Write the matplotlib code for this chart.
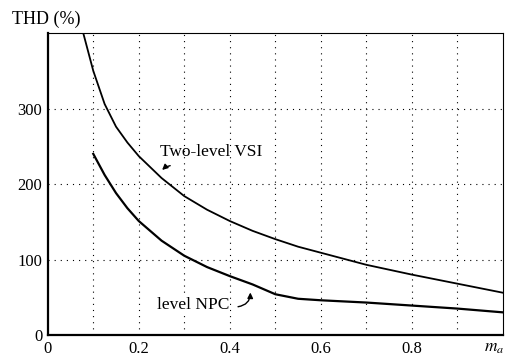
import matplotlib
matplotlib.use("Agg")
import matplotlib.pyplot as plt

plt.rcParams["font.family"] = ["Liberation Serif", "DejaVu Serif"]
plt.rcParams["mathtext.fontset"] = "stix"

# curves
vsi_x = [0.078, 0.1, 0.125, 0.15, 0.175, 0.2, 0.25, 0.3, 0.35, 0.4, 0.45, 0.5,
         0.55, 0.6, 0.7, 0.8, 0.9, 1.0]
vsi_y = [400, 350, 306, 276, 255, 237, 208, 184, 166, 151, 138, 127,
         117, 109, 93, 80, 68, 56]
npc_x = [0.1, 0.125, 0.15, 0.175, 0.2, 0.25, 0.3, 0.35, 0.4, 0.45, 0.5, 0.55,
         0.6, 0.7, 0.8, 0.9, 1.0]
npc_y = [240, 212, 188, 168, 151, 125, 105, 90, 78, 67, 54, 48,
         46, 43, 39, 35, 30]

x_ticks = [0, 0.2, 0.4, 0.6, 0.8]
x_labels = ["0", "0.2", "0.4", "0.6", "0.8"]
y_ticks = [0, 100, 200, 300]
x_grid = [0.1, 0.2, 0.3, 0.4, 0.5, 0.6, 0.7, 0.8, 0.9]

fig = plt.figure(figsize=(5.08, 3.56), dpi=100)
ax = fig.add_axes([0.094, 0.059, 0.896, 0.848])

ax.plot(vsi_x, vsi_y, color="black", lw=1.3)
ax.plot(npc_x, npc_y, color="black", lw=1.6)

ax.set_xlim(0, 1)
ax.set_ylim(0, 400)
ax.set_xticks(x_ticks)
ax.set_xticklabels(x_labels)
ax.set_yticks(y_ticks)
ax.tick_params(length=0, labelsize=12, pad=4)

dots = (0, (1, 4.5))
for gx in x_grid:
    ax.axvline(gx, color="black", lw=0.8, ls=dots, zorder=0)
for gy in y_ticks[1:]:
    ax.axhline(gy, color="black", lw=0.8, ls=dots, zorder=0)

for s in ["left", "bottom"]:
    ax.spines[s].set_linewidth(1.6)
for s in ["top", "right"]:
    ax.spines[s].set_linewidth(0.8)

fig.text(0.024, 0.945, "THD (%)", fontsize=13, va="center", ha="left")
ax.text(0.958, -0.016, "$m_a$", transform=ax.transAxes, fontsize=12.5,
        ha="left", va="top")

ax.text(0.246, 243, "Two-level VSI", fontsize=12.5, ha="left", va="center")
ax.annotate("", xy=(0.247, 216), xytext=(0.275, 225),
            arrowprops=dict(arrowstyle="-|>", color="black", lw=1,
                            mutation_scale=8, connectionstyle="arc3,rad=0.2"))

ax.text(0.24, 40, "level NPC", fontsize=12.5, ha="left", va="center",
        bbox=dict(facecolor="white", edgecolor="none", pad=0.5))
ax.annotate("", xy=(0.445, 60), xytext=(0.412, 37),
            arrowprops=dict(arrowstyle="-|>", color="black", lw=1,
                            mutation_scale=8, connectionstyle="arc3,rad=0.5"))

fig.savefig("out.png", dpi=100)
